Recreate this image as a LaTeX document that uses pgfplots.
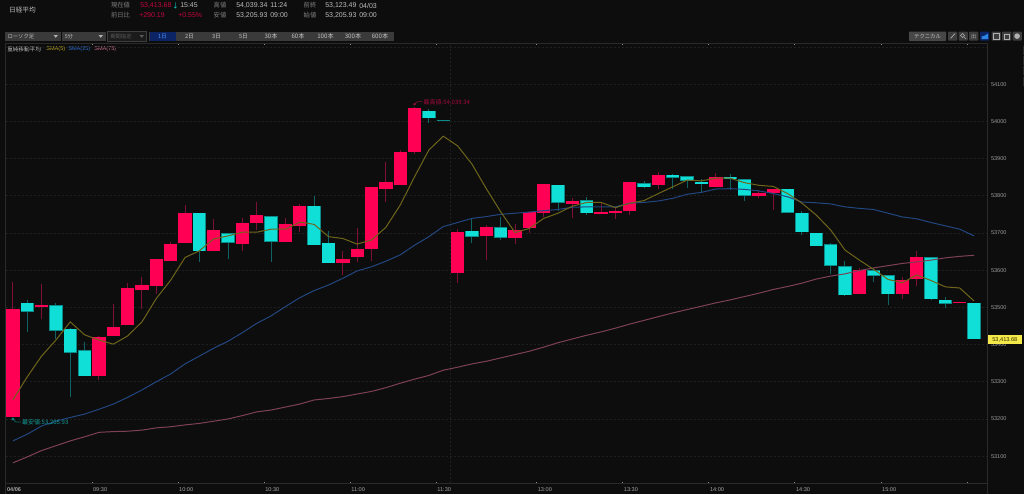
\documentclass[border=0pt]{standalone}
\usepackage{fontspec}
\setmainfont{Liberation Sans}
\newfontfamily\jp{Noto Sans CJK JP}
\usepackage{pgfplots}
\usepackage{pgfplotstable}
\pgfplotsset{compat=1.18}

\definecolor{bgc}{HTML}{0D0D0D}
\definecolor{gridc}{HTML}{1F1F1F}
\definecolor{framec}{HTML}{2A2A2A}
\definecolor{upc}{HTML}{FF0055}
\definecolor{upw}{HTML}{7E0F38}
\definecolor{dnc}{HTML}{10DFD8}
\definecolor{dnw}{HTML}{0F6264}
\definecolor{dne}{HTML}{0B8C8A}
\definecolor{sma5}{HTML}{6E651B}
\definecolor{sma25}{HTML}{224680}
\definecolor{sma75}{HTML}{7E4059}
\definecolor{hdgrey}{HTML}{808080}
\definecolor{hdval}{HTML}{BCBCBC}
\definecolor{hdred}{HTML}{C4053F}
\definecolor{btn}{HTML}{3A3A3A}
\definecolor{btntxt}{HTML}{C0C0C0}
\definecolor{btndark}{HTML}{1B1B1B}
\definecolor{btnline}{HTML}{3E3E3E}
\definecolor{btnoff}{HTML}{5A5A5A}
\definecolor{btnsel}{HTML}{0C2463}
\definecolor{seltxt}{HTML}{4C8EF2}
\definecolor{btnwide}{HTML}{474747}
\definecolor{btnicon}{HTML}{3D3D3D}
\definecolor{icon}{HTML}{B0B0B0}
\definecolor{iconblue}{HTML}{2C86E8}
\definecolor{lgold}{HTML}{B8A522}
\definecolor{lblue}{HTML}{2F6FD0}
\definecolor{lpink}{HTML}{C86E90}
\definecolor{xtickc}{HTML}{8A8A8A}
\definecolor{xtxt}{HTML}{A4A4A4}
\definecolor{ytxt}{HTML}{989898}
\definecolor{hitxt}{HTML}{A20A3C}
\definecolor{lotxt}{HTML}{0E9D98}
\definecolor{tagc}{HTML}{F5E84A}
\definecolor{tagtxt}{HTML}{333300}

% up candles: i low bot top high
\pgfplotstableread{
i low bot top high
0 53206 53206 53495 53569
2 53469 53502 53505 53562
6 53305 53315 53420 53424
7 53423 53423 53447 53509
8 53452 53452 53551 53565
9 53495 53547 53560 53581
10 53536 53557 53629 53630
11 53624 53624 53671 53676
12 53673 53673 53753 53774
14 53652 53652 53709 53737
16 53651 53671 53728 53741
17 53708 53726 53748 53784
19 53676 53676 53725 53739
20 53703 53719 53773 53777
23 53587 53619 53629 53651
24 53622 53635 53656 53713
25 53624 53656 53823 53823
26 53784 53818 53838 53890
27 53830 53830 53917 53924
28 53912 53917 54035 54039
31 53565 53592 53702 53710
33 53627 53692 53715 53721
35 53670 53686 53707 53723
36 53699 53714 53757 53760
37 53742 53753 53831 53831
39 53739 53778 53785 53793
41 53752 53752 53756 53784
42 53738 53753 53759 53770
43 53747 53758 53837 53837
45 53818 53828 53856 53863
49 53823 53823 53849 53860
52 53793 53798 53807 53815
53 53762 53807 53818 53818
59 53537 53537 53601 53606
62 53522 53537 53573 53582
63 53558 53575 53634 53651
66 53511 53511 53513 53513
}\upcandles

% down candles: i low bot top high
\pgfplotstableread{
i low bot top high
1 53434 53488 53512 53520
3 53414 53437 53505 53511
4 53258 53378 53442 53444
5 53315 53315 53385 53406
13 53622 53651 53754 53754
15 53631 53673 53699 53699
18 53623 53676 53745 53745
21 53667 53667 53773 53799
22 53618 53618 53674 53706
29 53996 54008 54028 54033
30 54001 54001 54004 54004
32 53672 53690 53706 53739
34 53681 53687 53716 53742
38 53760 53781 53829 53829
40 53749 53753 53788 53796
44 53821 53823 53834 53840
46 53817 53848 53856 53858
47 53821 53840 53853 53853
48 53809 53831 53838 53844
50 53816 53844 53851 53858
51 53787 53800 53844 53844
54 53754 53754 53819 53819
55 53695 53702 53754 53760
56 53664 53664 53701 53701
57 53590 53611 53669 53673
58 53530 53532 53611 53624
60 53567 53585 53600 53605
61 53507 53535 53586 53586
64 53519 53522 53634 53634
65 53497 53509 53521 53528
67 53414 53414 53512 53512
}\dncandles

\pgfplotstableread{
i v
0 53251
1 53313
2 53369
3 53412
4 53461
5 53426
6 53412
7 53401
8 53423
9 53461
10 53524
11 53573
12 53634
13 53652
14 53684
15 53692
16 53702
17 53702
18 53710
19 53710
20 53729
21 53723
22 53690
23 53685
24 53670
25 53681
26 53715
27 53775
28 53851
29 53923
30 53960
31 53934
32 53885
33 53819
34 53757
35 53701
36 53712
37 53739
38 53753
39 53772
40 53782
41 53782
42 53768
43 53780
44 53787
45 53806
46 53824
47 53842
48 53840
49 53847
50 53847
51 53835
52 53828
53 53825
54 53806
55 53780
56 53748
57 53708
58 53654
59 53627
60 53602
61 53575
62 53566
63 53587
64 53572
65 53555
66 53552
67 53517
}\smafive

\pgfplotstableread{
i v
0 53141
1 53159
2 53181
3 53194
4 53204
5 53213
6 53226
7 53240
8 53258
9 53278
10 53300
11 53321
12 53348
13 53369
14 53390
15 53409
16 53432
17 53457
18 53477
19 53502
20 53526
21 53545
22 53560
23 53578
24 53598
25 53609
26 53624
27 53641
28 53667
29 53690
30 53717
31 53728
32 53739
33 53744
34 53750
35 53753
36 53756
37 53760
38 53763
39 53769
40 53770
41 53770
42 53770
43 53780
44 53782
45 53786
46 53793
47 53804
48 53809
49 53818
50 53819
51 53817
52 53813
53 53806
54 53797
55 53783
56 53781
57 53778
58 53770
59 53766
60 53763
61 53753
62 53743
63 53738
64 53728
65 53719
66 53710
67 53692
}\smatwentyfive

\pgfplotstableread{
i v
0 53082
1 53098
2 53115
3 53128
4 53141
5 53152
6 53164
7 53166
8 53167
9 53170
10 53176
11 53179
12 53184
13 53188
14 53194
15 53200
16 53209
17 53219
18 53224
19 53232
20 53240
21 53251
22 53255
23 53260
24 53267
25 53274
26 53284
27 53296
28 53307
29 53317
30 53331
31 53339
32 53348
33 53355
34 53364
35 53373
36 53382
37 53393
38 53405
39 53415
40 53425
41 53434
42 53444
43 53455
44 53465
45 53475
46 53485
47 53494
48 53503
49 53512
50 53520
51 53529
52 53538
53 53548
54 53556
55 53565
56 53576
57 53584
58 53590
59 53599
60 53606
61 53612
62 53618
63 53622
64 53627
65 53633
66 53637
67 53640
}\smaseventyfive

\newcommand{\fs}[1]{\fontsize{#1}{#1}\selectfont}
% text at pixel position: x,y; text; colour; size
\newcommand{\tx}[4]{\node[anchor=west,inner sep=0pt,text=#3,font=\fs{#4}] at (#1) {#2};}
\newcommand{\tc}[4]{\node[anchor=center,inner sep=0pt,text=#3,font=\fs{#4}] at (#1) {#2};}

\begin{document}
\begin{tikzpicture}[x=0.75pt,y=-0.75pt]
\fill[bgc] (0,0) rectangle (1024,494);

% header
\tc{22.5,10}{\jp 日経平均}{hdval}{5pt}
\tc{120.5,5.5}{\jp 現在値}{hdgrey}{4.7pt}
\tx{140,5.5}{53,413.68}{hdred}{5.25pt}
\tc{175.5,5.5}{\jp ↓}{dnc}{5pt}
\tx{180,5.5}{15:45}{hdval}{5.25pt}
\tc{220,5.5}{\jp 高値}{hdgrey}{4.7pt}
\tx{236,5.5}{54,039.34}{hdval}{5.25pt}
\tx{270,5.5}{11:24}{hdval}{5.25pt}
\tc{310,5.5}{\jp 前終}{hdgrey}{4.7pt}
\tx{325,5.5}{53,123.49}{hdval}{5.25pt}
\tx{359,5.5}{04/03}{hdval}{5.25pt}
\tc{120.5,15.5}{\jp 前日比}{hdgrey}{4.7pt}
\tx{139,15.5}{+290.19}{hdred}{5.25pt}
\tx{178,15.5}{+0.55\%}{hdred}{5.25pt}
\tc{220,15.5}{\jp 安値}{hdgrey}{4.7pt}
\tx{236,15.5}{53,205.93}{hdval}{5.25pt}
\tx{270,15.5}{09:00}{hdval}{5.25pt}
\tc{310,15.5}{\jp 始値}{hdgrey}{4.7pt}
\tx{325,15.5}{53,205.93}{hdval}{5.25pt}
\tx{359,15.5}{09:00}{hdval}{5.25pt}

% toolbar
\fill[btn] (5,31.5) rectangle (60.5,41);
\fill[btn] (62,31.5) rectangle (106,41);
\fill[btndark] (107.5,31.5) rectangle (146,41);
\draw[btnline,line width=0.4pt] (107.5,31.5) rectangle (146,41);
\fill[btn] (149,31.5) rectangle (394,41);
\fill[btnsel] (150,32) rectangle (176,40.5);
\tx{7.3,36.3}{\jp ローソク足}{btntxt}{4pt}
\tx{64.5,36.3}{\jp 5分}{btntxt}{4pt}
\tx{110,36.3}{\jp 期間指定}{btnoff}{4pt}
\fill[icon] (53.5,35) -- (58,35) -- (55.75,37.8) -- cycle;
\fill[icon] (98.5,35) -- (103,35) -- (100.75,37.8) -- cycle;
\fill[btnoff] (139.5,35) -- (144,35) -- (141.75,37.8) -- cycle;
\tc{162.5,36.3}{\jp 1日}{seltxt}{4.3pt}
\tc{189.5,36.3}{\jp 2日}{btntxt}{4.3pt}
\tc{216.5,36.3}{\jp 3日}{btntxt}{4.3pt}
\tc{243.5,36.3}{\jp 5日}{btntxt}{4.3pt}
\tc{271,36.3}{\jp 30本}{btntxt}{4.6pt}
\tc{298,36.3}{\jp 60本}{btntxt}{4.6pt}
\tc{325.5,36.3}{\jp 100本}{btntxt}{4.6pt}
\tc{353,36.3}{\jp 300本}{btntxt}{4.6pt}
\tc{380,36.3}{\jp 600本}{btntxt}{4.6pt}

% right hand buttons
\fill[btnwide,rounded corners=0.5pt] (909,31.5) rectangle (946,41);
\tc{927.5,36.3}{\jp テクニカル}{btntxt}{4pt}
\foreach \bx in {948,958.5,969,991.5,1002,1012.5}{
  \fill[btnicon,rounded corners=0.5pt] (\bx,31.7) rectangle +(9.3,8.8);
}
\fill[btnsel,rounded corners=0.5pt] (980,31.7) rectangle +(9.3,8.8);
\draw[icon,line width=0.5pt] (950.5,38.5) -- (955,33.5);
\draw[icon,line width=0.4pt] (962.5,35.5) circle (1.9);
\draw[icon,line width=0.4pt] (964,37) -- (966,39);
\tc{973.7,36.1}{\jp 出}{icon}{3.9pt}
\fill[iconblue] (981.5,39) -- (981.5,36.5) -- (984,36) -- (988,33.5) -- (988,39) -- cycle;
\draw[icon,line width=0.4pt] (993.5,33.5) rectangle (999,39);
\draw[icon,line width=0.4pt] (1004,34.5) rectangle (1009.5,38.8);
\fill[icon] (1017.1,36.1) circle (2.8);

% side tabs
\foreach \ty in {46,56,66,76.5}{
  \fill[framec] (1022.6,\ty) rectangle (1024,\ty+9);
}

% legend
\tx{7,49.5}{\jp 重純移動平均}{hdval}{4.2pt}
\tx{46,49.5}{SMA(5)}{lgold}{4.2pt}
\tx{68,49.5}{SMA(25)}{lblue}{4.2pt}
\tx{94,49.5}{SMA(75)}{lpink}{4.2pt}

\begin{axis}[
  at={(4.275pt,-362.475pt)}, anchor=south west,
  scale only axis,
  width=735.97pt, height=330pt,
  xmin=-0.5, xmax=67.9,
  ymin=53027, ymax=54209.7,
  axis line style={draw=framec,line width=0.75pt},
  xtick={-0.5,5.5,11.5,17.5,23.5,29.5,36.5,42.5,48.5,54.5,60.5,66.5},
  xticklabels={\textbf{04/06},09:30,10:00,10:30,11:00,11:30,13:00,13:30,14:00,14:30,15:00,},
  ytick={53100,53200,53300,53400,53500,53600,53700,53800,53900,54000,54100},
  extra y ticks={54200},
  extra y tick labels={},
  ymajorgrids,
  extra y tick style={ymajorgrids},
  major grid style={draw=gridc,line width=0.5pt,dash pattern=on 1.5pt off 1.5pt},
  yticklabel pos=right,
  scaled y ticks=false,
  tick align=inside,
  major tick length=1.2pt,
  xtick style={draw=xtickc,line width=0.4pt},
  ytick style={draw=none},
  xticklabel style={anchor=north west,inner sep=0pt,yshift=-2.8pt,xshift=0.8pt,
    font=\fs{4.2pt},text=xtxt},
  yticklabel style={anchor=west,inner sep=0pt,xshift=2.8pt,
    font=\fs{4.2pt},text=ytxt,
    /pgf/number format/.cd,1000 sep={},assume math mode=true},
  every axis plot/.append style={forget plot},
]
% lunch break line
\addplot[draw=gridc,line width=0.5pt,dash pattern=on 1.5pt off 1.5pt]
  coordinates {(30.5,53027) (30.5,54209.7)};

% wicks
\addplot[draw=none,error bars/.cd,y dir=both,y explicit,error mark=none,
  error bar style={draw=upw,solid,line width=0.75pt}]
  table[x=i,y=bot,y error plus expr=\thisrow{high}-\thisrow{bot},
        y error minus expr=\thisrow{bot}-\thisrow{low}] {\upcandles};
\addplot[draw=none,error bars/.cd,y dir=both,y explicit,error mark=none,
  error bar style={draw=dnw,solid,line width=0.75pt}]
  table[x=i,y=bot,y error plus expr=\thisrow{high}-\thisrow{bot},
        y error minus expr=\thisrow{bot}-\thisrow{low}] {\dncandles};

% bodies
\addplot[draw=none,error bars/.cd,y dir=plus,y explicit,error mark=none,
  error bar style={draw=upc,solid,line width=10pt}]
  table[x=i,y=bot,y error plus expr=\thisrow{top}-\thisrow{bot}] {\upcandles};
\addplot[draw=none,error bars/.cd,y dir=plus,y explicit,error mark=none,
  error bar style={draw=dne,solid,line width=10pt}]
  table[x=i,y=bot,y error plus expr=\thisrow{top}-\thisrow{bot}] {\dncandles};
\addplot[draw=none,error bars/.cd,y dir=plus,y explicit,error mark=none,
  error bar style={draw=dnc,solid,line width=9.1pt}]
  table[x=i,y expr=\thisrow{bot}+1.5,y error plus expr=\thisrow{top}-\thisrow{bot}-3] {\dncandles};

% moving averages
\addplot[draw=sma75,line width=0.75pt] table[x=i,y=v] {\smaseventyfive};
\addplot[draw=sma25,line width=0.75pt] table[x=i,y=v] {\smatwentyfive};
\addplot[draw=sma5,line width=0.75pt] table[x=i,y=v] {\smafive};

% high and low notes
\addplot[draw=upw,line width=0.5pt] coordinates {(28,54046) (28.2,54053) (28.55,54053)};
\addplot[only marks,mark=*,mark size=0.8pt,color=upw] coordinates {(28,54046)};
\addplot[draw=dnw,line width=0.5pt] coordinates {(0,53200) (0.21,53192) (0.56,53192)};
\addplot[only marks,mark=*,mark size=0.8pt,color=dne] coordinates {(0,53200)};
\node[anchor=west,inner sep=0pt,text=hitxt,font=\fs{4.5pt}] at (axis cs:28.62,54050) {\jp 最高値:54,039.34};
\node[anchor=west,inner sep=0pt,text=lotxt,font=\fs{4.5pt}] at (axis cs:0.62,53191) {\jp 最安値:53,205.93};
\end{axis}

% chart frame, down to the picture bottom
\draw[framec,line width=0.75pt] (987,43) -- (987,494);
\draw[framec,line width=0.75pt] (5.7,43) -- (5.7,494);

% last price tag
\fill[tagc] (987.5,335) rectangle (1022,344);
\tc{1004.8,339.5}{53,413.68}{tagtxt}{4.2pt}
\end{tikzpicture}
\end{document}
